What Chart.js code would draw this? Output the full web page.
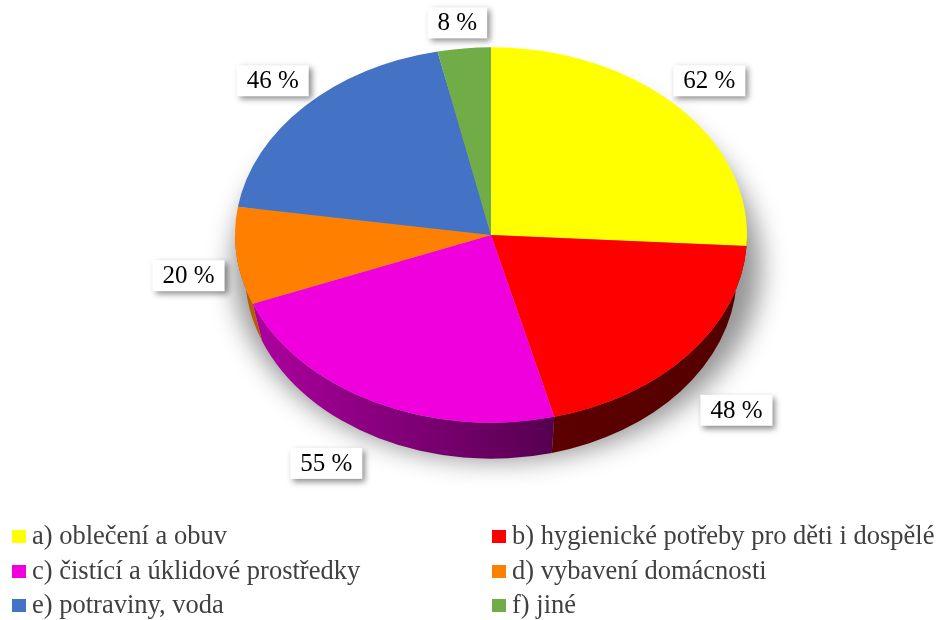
<!DOCTYPE html>
<html>
<head>
<meta charset="utf-8">
<script src="https://cdn.jsdelivr.net/npm/chart.js@4"></script>
<style>
  html, body { margin: 0; padding: 0; background: #fff; }
  #wrap { position: relative; width: 939px; height: 620px; }
  #legend { position: absolute; left: 0; top: 518px; width: 939px;
            font-family: "Liberation Serif", "Times New Roman", serif; font-size: 26.5px; color: #404040; }
  .item { position: absolute; white-space: nowrap; line-height: 34px; }
  .box { display: inline-block; width: 14px; height: 13px; margin-right: 6px; vertical-align: 1px; }
</style>
</head>
<body>
<div id="wrap">
  <canvas id="c" width="939" height="620"></canvas>
  <div id="legend"></div>
</div>
<script>
var categories = ['a) oblečení a obuv', 'b) hygienické potřeby pro děti i dospělé', 'c) čistící a úklidové prostředky',
                  'd) vybavení domácnosti', 'e) potraviny, voda', 'f) jiné'];
var values = [62, 48, 55, 20, 46, 8];
var colors = ['#FFFF00', '#FF0000', '#F000DD', '#FF8000', '#4472C4', '#70AD47'];

var TILT = 0.733;   // vertical squash of the top face
var DEPTH = 38;     // thickness of the pie side
var SHRINK = 10;    // bottom rim is a bit smaller (perspective)

function shade(hex, f) {
  var n = parseInt(hex.slice(1), 16);
  var r = Math.round(((n >> 16) & 255) * f), g = Math.round(((n >> 8) & 255) * f), b = Math.round((n & 255) * f);
  return 'rgb(' + r + ',' + g + ',' + b + ')';
}
function clamp(v) { return Math.max(-1, Math.min(1, v)); }

var pie3d = {
  id: 'pie3d',
  beforeDatasetsDraw: function (chart) {
    var ctx = chart.ctx;
    var arcs = chart.getDatasetMeta(0).data;
    var cx = arcs[0].x, cy = arcs[0].y, r = arcs[0].outerRadius, ry = r * TILT;

    // soft shadow only (shape is drawn off-canvas)
    ctx.save();
    ctx.shadowColor = 'rgba(0,0,0,0.42)';
    ctx.shadowBlur = 26;
    ctx.shadowOffsetX = 3000;
    ctx.shadowOffsetY = 0;
    ctx.fillStyle = '#000';
    ctx.beginPath();
    ctx.ellipse(cx + 6 - 3000, cy + DEPTH - 6, r + 8, ry + 6, 0, 0, Math.PI * 2);
    ctx.fill();
    ctx.restore();

    // side band: only the front half (angles 0..PI) is visible
    ctx.save();
    arcs.forEach(function (arc, i) {
      var a1 = Math.max(arc.startAngle, 0), a2 = Math.min(arc.endAngle, Math.PI);
      if (a2 <= a1) return;
      var g = ctx.createLinearGradient(cx - r, 0, cx + r, 0);
      g.addColorStop(0, shade(colors[i], 0.74));
      g.addColorStop(0.62, shade(colors[i], 0.36));
      g.addColorStop(1, shade(colors[i], 0.33));
      ctx.fillStyle = g;
      ctx.beginPath();
      ctx.ellipse(cx, cy, r, ry, 0, a1, a2);
      ctx.ellipse(cx, cy + DEPTH, r - SHRINK, ry - 2, 0, a2, a1, true);
      ctx.closePath();
      ctx.fill();
    });
    ctx.restore();

    // squash the top face
    ctx.save();
    ctx.translate(cx, cy);
    ctx.scale(1, TILT);
    ctx.translate(-cx, -cy);
  },
  afterDatasetsDraw: function (chart) {
    var ctx = chart.ctx;
    ctx.restore();

    var arcs = chart.getDatasetMeta(0).data;
    ctx.save();
    ctx.font = '25px "Liberation Serif", "Times New Roman", serif';
    ctx.textAlign = 'center';
    ctx.textBaseline = 'middle';
    arcs.forEach(function (arc, i) {
      var mid = (arc.startAngle + arc.endAngle) / 2;
      var c = Math.cos(mid), s = Math.sin(mid);
      var txt = values[i] + ' %';
      var w = ctx.measureText(txt).width + 20, h = 31;
      // edge point of the slice, then push the box outwards
      var ex = arc.x + c * arc.outerRadius;
      var ey = arc.y + s * arc.outerRadius * TILT + (s > 0 ? DEPTH * Math.sqrt(s) : 0);
      var x = ex + (w / 2 + (s > 0 ? 12 : -4)) * clamp(c * 2.5);
      var y = ey + (h / 2 + 10) * clamp(s * 2.5);
      ctx.save();
      ctx.shadowColor = 'rgba(0,0,0,0.45)';
      ctx.shadowBlur = 6;
      ctx.shadowOffsetX = 3;
      ctx.shadowOffsetY = 3;
      ctx.fillStyle = '#fff';
      ctx.fillRect(x - w / 2, y - h / 2, w, h);
      ctx.restore();
      ctx.fillStyle = '#000';
      ctx.fillText(txt, x, y + 1);
    });
    ctx.restore();
  }
};

new Chart(document.getElementById('c'), {
  type: 'pie',
  data: {
    labels: categories,
    datasets: [{ data: values, backgroundColor: colors, borderWidth: 0, clip: false }]
  },
  options: {
    responsive: false,
    animation: false,
    radius: 256,
    layout: { padding: { left: 43, right: 0, top: 0, bottom: 150 } },
    plugins: { legend: { display: false }, tooltip: { enabled: false } }
  },
  plugins: [pie3d]
});

// two-column legend under the chart
var legend = document.getElementById('legend');
categories.forEach(function (name, i) {
  var item = document.createElement('div');
  item.className = 'item';
  item.style.left = (i % 2 === 0 ? 12 : 492) + 'px';
  item.style.top = (Math.floor(i / 2) * 34.5) + 'px';
  item.innerHTML = '<span class="box" style="background:' + colors[i] + '"></span>' + name;
  legend.appendChild(item);
});
</script>
</body>
</html>
